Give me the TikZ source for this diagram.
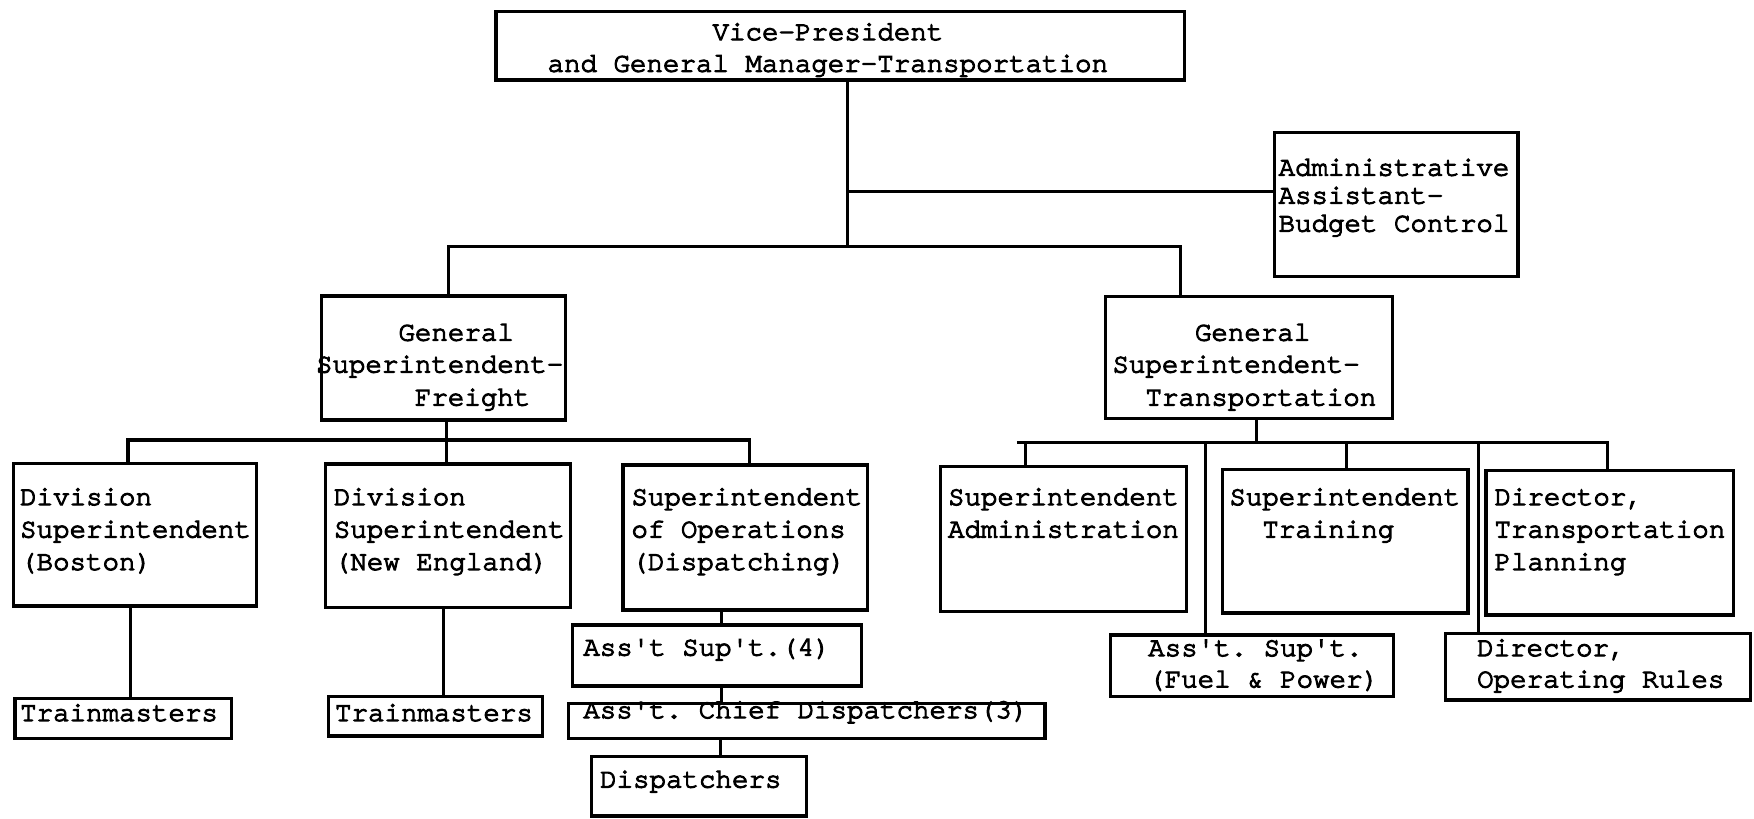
\documentclass[tikz,border=0pt]{standalone}
\usepackage{fontspec}
\setmonofont{texgyrecursor-regular.otf}[FakeBold=4]
% box from top-left (x1,y1) to bottom-right (x2,y2), y counted downwards
\newcommand\orgbox[5]{\node[box,minimum width={#4-#2},minimum height={#5-#3}] (#1) at (#2,#3) {};}
% one typed line: name, left x, baseline y, text
\newcommand\orgline[4]{\node[txt] (#1) at (#2,#3) {#4};}
\begin{document}
\begin{tikzpicture}[x=1pt,y=-1pt,
  box/.style={draw, line width=2.9pt, rectangle, inner sep=0pt, outer sep=0pt, anchor=north west},
  txt/.style={anchor=base west, inner sep=0pt, outer sep=0pt, font=\ttfamily\fontsize{24.56}{29}\selectfont},
  link/.style={line width=2.9pt}]
\useasboundingbox (0,0) rectangle (1568,732);
\fill[white] (0,0) rectangle (1568,732);

% ---- boxes ----
\orgbox{vp}{443.5}{10.5}{1058.8}{71.5}
\orgbox{admin}{1139}{118.6}{1357}{247.3}
\orgbox{freight}{287.5}{264.6}{505.2}{375.5}
\orgbox{trans}{988.5}{265}{1245}{374}
\orgbox{boston}{11.9}{414.2}{229.4}{541.8}
\orgbox{ne}{291}{414.8}{509.8}{543.2}
\orgbox{ops}{557}{415.7}{775.5}{545.3}
\orgbox{supadm}{840.6}{417}{1060.8}{546.8}
\orgbox{training}{1093}{419.6}{1312.4}{548}
\orgbox{dirtp}{1328.4}{420.8}{1549.5}{549.8}
\orgbox{fuel}{992.9}{567.7}{1245.8}{622.8}
\orgbox{oprules}{1292}{566}{1565}{625.8}
\orgbox{tmA}{13.4}{624.3}{207}{660}
\orgbox{tmB}{293.5}{622.8}{485.1}{658}
\orgbox{asup}{512}{558.7}{770.3}{613.3}
\orgbox{achief}{508}{628.8}{934.2}{660}
\orgbox{disp}{529}{676.4}{721}{729.5}

% ---- texts ----
\orgline{vp-a}{637}{35.8}{Vice-President}
\orgline{vp-b}{489.5}{64.1}{and General Manager-Transportation}
\orgline{admin-a}{1143}{157}{Administrative}
\orgline{admin-b}{1143}{182}{Assistant-}
\orgline{admin-c}{1143}{207}{Budget Control}
\orgline{freight-a}{356.2}{304.5}{General}
\orgline{freight-b}{282.5}{333}{Superintendent-}
\orgline{freight-c}{370.9}{362.5}{Freight}
\orgline{trans-a}{1068.2}{304.5}{General}
\orgline{trans-b}{994.5}{333}{Superintendent-}
\orgline{trans-c}{1024}{362.5}{Transportation}
\orgline{boston-a}{18}{451.5}{Division}
\orgline{boston-b}{18}{480.5}{Superintendent}
\orgline{boston-c}{18}{509.5}{(Boston)}
\orgline{ne-a}{298.5}{451.5}{Division}
\orgline{ne-b}{298.5}{480.5}{Superintendent}
\orgline{ne-c}{298.5}{509.5}{(New England)}
\orgline{ops-a}{564.5}{451.5}{Superintendent}
\orgline{ops-b}{564.5}{480.5}{of Operations}
\orgline{ops-c}{564.5}{509.5}{(Dispatching)}
\orgline{supadm-a}{847.5}{451.5}{Superintendent}
\orgline{supadm-b}{847.5}{480.5}{Administration}
\orgline{training-a}{1099}{451.5}{Superintendent}
\orgline{training-b}{1128.5}{480.5}{Training}
\orgline{dirtp-a}{1336}{451.5}{Director,}
\orgline{dirtp-b}{1336}{480.5}{Transportation}
\orgline{dirtp-c}{1336}{509.5}{Planning}
\orgline{fuel-a}{1026.5}{586.5}{Ass't. Sup't.}
\orgline{fuel-b}{1026.5}{614.5}{(Fuel \& Power)}
\orgline{oprules-a}{1320.5}{586.5}{Director,}
\orgline{oprules-b}{1320.5}{614.5}{Operating Rules}
\orgline{tmA-a}{18}{644.5}{Trainmasters}
\orgline{tmB-a}{299.5}{644.5}{Trainmasters}
\orgline{asup-a}{521.5}{586}{Ass't Sup't.(4)}
\orgline{achief-a}{521.5}{642}{Ass't. Chief Dispatchers(3)}
\orgline{disp-a}{536.5}{704}{Dispatchers}

% ---- junction points of the connecting lines ----
\coordinate (vpj) at (757.5,220.5);
\coordinate (admj) at (757.5,171.5);
\coordinate (frj) at (401,220.5);
\coordinate (trj) at (1055,220.5);
\coordinate (fsj) at (399,393.4);
\coordinate (bsj) at (114.5,393.4);
\coordinate (osj) at (669.8,393.4);
\coordinate (tsj) at (1123,395.7);
\coordinate (tbl) at (909,395.7);
\coordinate (saj) at (917,395.7);
\coordinate (fuj) at (1077.5,395.7);
\coordinate (trnj) at (1204,395.7);
\coordinate (orj) at (1322,395.7);
\coordinate (dtj) at (1437,395.7);
\coordinate (bstem) at (116.5,600);
\coordinate (nstem) at (396.3,600);
\coordinate (ostem) at (645,600);
\coordinate (dstem) at (644,600);

% ---- connectors ----
\draw[link] (vp.south -| vpj) -- (vpj);
\draw[link] (admj) -- (admj -| admin.west);
\draw[link] (frj |- freight.north) -- (frj) -- (trj) -- (trj |- trans.north);

\draw[link] (freight.south -| fsj) -- (fsj) -- (fsj |- ne.north);
\draw[link] (bsj |- boston.north) -- (bsj) -- (osj) -- (osj |- ops.north);

\draw[link] (trans.south -| tsj) -- (tsj);
\draw[link] (tbl) -- (dtj) -- (dtj |- dirtp.north);
\draw[link] (saj) -- (saj |- supadm.north);
\draw[link] (trnj) -- (trnj |- training.north);
\draw[link] (fuj) -- (fuj |- fuel.north);
\draw[link] (orj) -- (orj |- oprules.north);

\draw[link] (boston.south -| bstem) -- (tmA.north -| bstem);
\draw[link] (ne.south -| nstem) -- (tmB.north -| nstem);
\draw[link] (ops.south -| ostem) -- (asup.north -| ostem);
\draw[link] (asup.south -| ostem) -- (achief.north -| ostem);
\draw[link] (achief.south -| dstem) -- (disp.north -| dstem);
\end{tikzpicture}
\end{document}
